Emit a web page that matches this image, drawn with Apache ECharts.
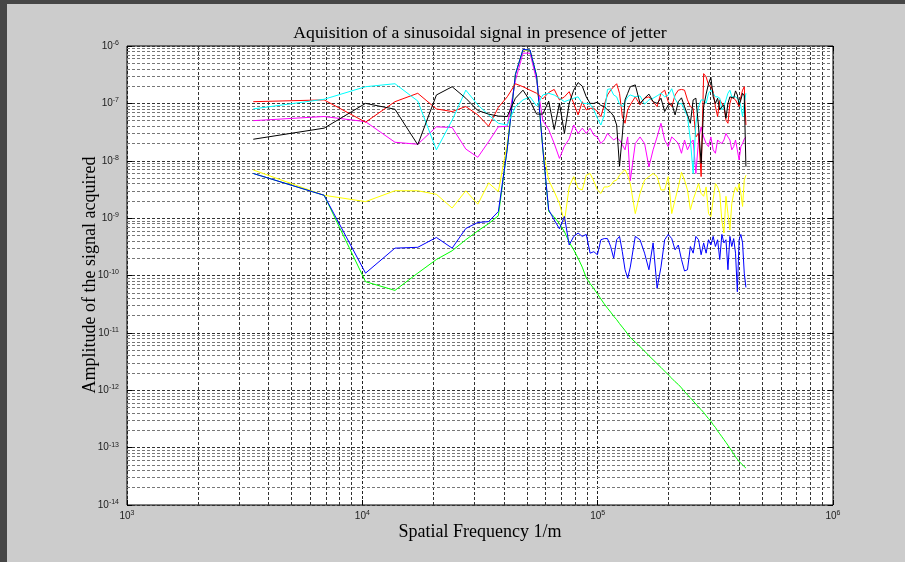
<!DOCTYPE html>
<html><head><meta charset="utf-8">
<script src="https://cdn.jsdelivr.net/npm/echarts@6/dist/echarts.min.js"></script>
<style>html,body{margin:0;padding:0;background:#cccccc;}#c{width:905px;height:562px;}</style>
</head><body><div id="c"></div>
<script>
// Spatial frequencies (1/m) of the harmonics
const freq = [3440,6880,10320,13760,17200,20640,24080,27520,30960,34400,
  37840,41280,44720,48160,51600,55040,58480,61920,65360,68800,
  72240,75680,79120,82560,86000,89440,92880,96320,99760,103200,
  106640,110080,113520,116960,120400,123840,127280,130720,134160,137600,
  144480,151360,158240,165120,172000,178880,185760,192640,199520,206400,
  213280,220160,227040,233920,240800,247680,254560,261440,268320,275200,
  282080,288960,295840,302720,309600,316480,323360,330240,337120,344000,
  350880,357760,364640,371520,378400,385280,392160,399040,405920,412800,
  419680,426560];

const greenVals = [6.0e-9,2.5e-9,7.8e-11,5.5e-11,1.1e-10,1.9e-10,2.7e-10,4.2e-10,6.0e-10,8.0e-10,
  1.1e-9,1.6e-8,3.2e-7,8.7e-7,8.5e-7,3.0e-7,1.6e-8,1.3e-9,1.05e-9,8.0e-10,
  5.8e-10,3.8e-10,2.8e-10,2.0e-10,1.4e-10,9.1e-11,7.2e-11,5.9e-11,4.8e-11,3.9e-11,
  3.2e-11,2.7e-11,2.3e-11,1.95e-11,1.7e-11,1.45e-11,1.26e-11,1.1e-11,9.5e-12,8.3e-12,
  6.9e-12,5.75e-12,4.8e-12,4.0e-12,3.4e-12,2.9e-12,2.5e-12,2.15e-12,1.86e-12,1.62e-12,
  1.41e-12,1.26e-12,1.1e-12,9.5e-13,8.3e-13,7.4e-13,6.5e-13,5.75e-13,5.1e-13,4.6e-13,
  4.1e-13,3.6e-13,3.2e-13,2.9e-13,2.5e-13,2.25e-13,1.95e-13,1.74e-13,1.55e-13,1.38e-13,
  1.23e-13,1.1e-13,9.8e-14,8.7e-14,7.8e-14,6.9e-14,6.3e-14,5.75e-14,5.4e-14,5.0e-14,
  4.7e-14,4.4e-14];

const blueVals = [6.0e-9,2.5e-9,1.1e-10,3.0e-10,3.1e-10,4.6e-10,3.0e-10,6.6e-10,8.4e-10,8.7e-10,
  1.3e-9,1.6e-8,3.2e-7,8.7e-7,8.5e-7,3.0e-7,1.6e-8,1.4e-9,9.3e-10,6.5e-10,
  1.07e-9,3.4e-10,4.8e-10,5.5e-10,4.8e-10,5.2e-10,2.45e-10,2.6e-10,2.3e-10,4.2e-10,
  4.4e-10,4.4e-10,3.2e-10,2.0e-10,4.2e-10,4.8e-10,2.6e-10,1.26e-10,9.0e-11,1.4e-10,
  4.8e-10,4.2e-10,2.45e-10,1.26e-10,3.7e-10,6.0e-11,1.4e-10,4.2e-10,5.2e-10,4.4e-10,
  2.8e-10,3.4e-10,1.9e-10,1.2e-10,1.26e-10,3.2e-10,2.45e-10,4.8e-10,4.2e-10,2.3e-10,
  3.7e-10,2.45e-10,4.2e-10,3.4e-10,4.8e-10,3.2e-10,4.2e-10,1.9e-10,5.2e-10,3.7e-10,
  4.2e-10,1.26e-10,4.8e-10,3.2e-10,4.4e-10,2.45e-10,5.2e-11,4.2e-10,5.2e-10,3.7e-10,
  1.1e-10,6.2e-11];

const yellowVals = [6.9e-9,2.5e-9,1.94e-9,3.0e-9,3.0e-9,2.6e-9,1.5e-9,3.0e-9,1.75e-9,4.1e-9,
  2.9e-9,2.0e-8,3.2e-7,8.5e-7,8.3e-7,3.0e-7,1.6e-8,4.6e-9,2.9e-9,1.8e-9,
  8.7e-10,3.5e-9,5.3e-9,3.3e-9,3.1e-9,5.6e-9,6.0e-9,4.4e-9,3.1e-9,2.7e-9,
  3.5e-9,3.5e-9,3.7e-9,4.4e-9,4.6e-9,5.6e-9,6.3e-9,7.0e-9,5.6e-9,4.0e-9,
  1.2e-9,2.7e-9,4.6e-9,5.3e-9,6.0e-9,5.3e-9,3.1e-9,3.1e-9,5.3e-9,1.2e-9,
  2.1e-9,3.5e-9,6.3e-9,4.6e-9,3.1e-9,1.4e-9,2.1e-9,2.9e-9,4.0e-9,2.7e-9,
  2.4e-9,3.5e-9,1.2e-9,1.06e-9,2.1e-9,4.0e-9,3.5e-9,2.7e-9,9.0e-10,5.5e-10,
  2.4e-9,1.2e-9,6.2e-10,1.8e-9,2.7e-9,3.5e-9,2.9e-9,4.0e-9,2.7e-9,1.6e-9,
  4.6e-9,5.6e-9];

const magentaVals = [5.0e-8,5.9e-8,4.8e-8,2.1e-8,1.94e-8,3.9e-8,3.8e-8,1.6e-8,1.15e-8,2.15e-8,
  3.9e-8,4.0e-8,2.5e-7,7.5e-7,7.5e-7,2.5e-7,5.0e-8,3.5e-8,2.0e-8,1.1e-8,
  1.8e-8,2.4e-8,4.2e-8,3.0e-8,3.7e-8,3.0e-8,3.7e-8,2.8e-8,2.6e-8,2.0e-8,
  2.3e-8,3.0e-8,2.6e-8,2.3e-8,2.5e-8,2.3e-8,1.9e-8,1.55e-8,2.6e-8,4.5e-9,
  2.0e-8,2.6e-8,2.0e-8,7.8e-9,1.55e-8,2.6e-8,4.5e-8,2.3e-8,1.76e-8,2.6e-8,
  2.3e-8,2.0e-8,1.35e-8,2.3e-8,1.55e-8,2.0e-8,2.3e-8,6.0e-9,2.3e-8,3.9e-8,
  2.6e-8,2.0e-8,1.76e-8,2.6e-8,1.55e-8,1.35e-8,2.3e-8,2.1e-8,2.0e-8,2.3e-8,
  3.0e-8,2.6e-8,2.3e-8,1.55e-8,1.76e-8,2.3e-8,1.55e-8,1.03e-8,1.76e-8,2.0e-8,
  2.4e-8,2.6e-8];

const redVals = [1.07e-7,1.15e-7,4.7e-8,1.07e-7,1.5e-7,8.0e-8,7.2e-8,8.8e-8,6.3e-8,4.0e-8,
  8.5e-8,1.3e-7,2.2e-7,1.95e-7,1.7e-7,1.5e-7,1.2e-7,1.55e-7,1.75e-7,1.15e-7,
  1.3e-7,1.6e-7,1.0e-7,6.3e-8,1.07e-7,7.7e-8,8.2e-8,8.2e-8,7.2e-8,5.9e-8,
  9.4e-8,1.4e-7,1.7e-7,1.95e-7,2.2e-7,1.5e-7,5.9e-8,4.5e-8,7.7e-8,9.4e-8,
  1.3e-7,9.4e-8,1.23e-7,1.3e-7,1.07e-7,8.8e-8,1.5e-7,1.7e-7,1.07e-7,8.8e-8,
  1.4e-7,1.7e-7,1.75e-7,1.7e-7,1.15e-7,8.8e-8,8.2e-8,2.6e-8,3.0e-8,5.3e-9,
  3.3e-7,2.9e-7,2.1e-7,2.0e-7,1.6e-7,8.8e-8,5.9e-8,1.15e-7,1.0e-7,8.8e-8,
  5.1e-8,4.5e-8,1.0e-7,1.3e-7,1.4e-7,1.15e-7,1.07e-7,8.8e-8,1.3e-7,1.7e-7,
  1.95e-7,4.2e-8];

const cyanVals = [8.0e-8,1.18e-7,1.95e-7,2.2e-7,1.1e-7,1.55e-8,5.1e-8,1.7e-7,9.4e-8,6.3e-8,
  4.5e-8,4.2e-8,8.8e-8,1.15e-7,1.3e-7,9.0e-8,1.4e-7,1.5e-7,1.4e-7,1.23e-7,
  1.07e-7,1.15e-7,1.23e-7,1.3e-7,1.0e-7,1.0e-7,9.7e-8,7.7e-8,5.5e-8,4.2e-8,
  6.3e-8,1.75e-7,1.8e-7,1.4e-7,1.3e-7,9.7e-8,8.8e-8,1.07e-7,1.3e-7,1.4e-7,
  1.3e-7,1.35e-7,9.7e-8,1.15e-7,1.23e-7,1.35e-7,1.5e-7,1.3e-7,1.4e-7,1.8e-7,
  1.2e-7,9.7e-8,1.0e-7,7.7e-8,5.9e-8,2.3e-8,6.0e-9,4.5e-8,8.8e-8,1.15e-7,
  1.15e-7,1.0e-7,1.5e-7,1.7e-7,1.5e-7,1.3e-7,1.3e-7,1.23e-7,7.7e-8,8.8e-8,
  1.15e-7,1.5e-7,1.7e-7,1.3e-7,1.23e-7,1.3e-7,1.3e-7,1.15e-7,8.8e-8,5.9e-8,
  1.0e-7,1.5e-7];

const blackVals = [2.37e-8,3.7e-8,1.0e-7,7.9e-8,1.9e-8,1.4e-7,1.95e-7,1.23e-7,7.5e-8,6.5e-8,
  6.0e-8,5.9e-8,1.23e-7,1.7e-7,1.1e-7,6.5e-8,6.5e-8,1.1e-7,3.5e-8,1.0e-7,
  3.0e-8,1.0e-7,1.7e-7,2.3e-7,2.0e-7,1.3e-7,1.0e-7,1.0e-7,1.05e-7,9.2e-8,
  8.8e-8,7.7e-8,7.0e-8,6.0e-8,4.2e-8,8.0e-9,2.8e-8,1.15e-7,1.5e-7,1.95e-7,
  2.1e-7,1.0e-7,1.23e-7,1.45e-7,1.07e-7,1.0e-7,1.23e-7,7.2e-8,9.4e-8,1.0e-7,
  6.3e-8,1.07e-7,1.25e-7,8.8e-8,6.3e-8,4.5e-8,1.15e-7,1.23e-7,3.9e-8,9.0e-9,
  8.8e-8,1.45e-7,2.2e-7,2.85e-7,1.3e-7,1.0e-7,1.23e-7,7.7e-8,8.8e-8,9.4e-8,
  5.5e-8,1.0e-7,1.3e-7,1.23e-7,1.23e-7,1.65e-7,1.4e-7,9.4e-8,1.15e-7,1.5e-7,
  1.35e-7,7.9e-9];

const titleText = 'Aquisition of a sinusoidal signal in presence of jetter';
const xName = 'Spatial Frequency 1/m';
const yName = 'Amplitude of the signal acquired';
const xRange = [1e3, 1e6];
const yRange = [1e-14, 1e-6];
const minorMantissas = [2,3,4,5,6,7,8,9];
const xDecadeExps = [3,4,5];
const yDecadeExps = [-14,-13,-12,-11,-10,-9,-8,-7];

const minorLines = [];
xDecadeExps.forEach(e => minorMantissas.forEach(m => minorLines.push({xAxis: m * Math.pow(10, e), lineStyle: {color: '#333'}})));
yDecadeExps.forEach(e => minorMantissas.forEach(m => minorLines.push({yAxis: m * Math.pow(10, e), lineStyle: {color: '#777'}})));

function pairs(vals) { return freq.map((f, i) => [f, vals[i]]); }
function supLabel(v) { const e = Math.round(Math.log10(v)); return '{b|10}{s|' + e + '}'; }
const labelRich = {
  b: {fontFamily: 'Liberation Sans', fontSize: 10, color: '#222', lineHeight: 12},
  s: {fontFamily: 'Liberation Sans', fontSize: 7, color: '#222', lineHeight: 7, padding: [0, 0, 6, 0]}
};

const chart = echarts.init(document.getElementById('c'), null, {renderer: 'canvas'});
function mkSeries(name, vals, color, extra) {
  return Object.assign({
    name: name, type: 'line', data: pairs(vals), symbol: 'none', smooth: false,
    lineStyle: {color: color, width: 1}, itemStyle: {color: color},
    animation: false, silent: true, z: 2
  }, extra || {});
}
const textCommon = {fontFamily: 'Liberation Serif', fill: '#000', align: 'center', verticalAlign: 'middle', textAlign: 'center', textVerticalAlign: 'middle'};
chart.setOption({
  backgroundColor: '#cccccc',
  animation: false,
  graphic: [
    {type: 'rect', shape: {x: 0, y: 0, width: 905, height: 4}, style: {fill: '#464646'}, silent: true},
    {type: 'rect', shape: {x: 0, y: 0, width: 7, height: 562}, style: {fill: '#464646'}, silent: true},
    {type: 'text', x: 480, y: 33, silent: true, style: Object.assign({text: titleText, fontSize: 17.7}, textCommon)},
    {type: 'text', x: 90, y: 275, rotation: Math.PI / 2, silent: true, style: Object.assign({text: yName, fontSize: 18}, textCommon)},
    {type: 'text', x: 480, y: 532, silent: true, style: Object.assign({text: xName, fontSize: 18}, textCommon)}
  ],
  grid: {left: 127, top: 46, width: 706, height: 459, show: true, backgroundColor: '#ffffff', borderColor: '#000', borderWidth: 1},
  xAxis: [
    {type: 'log', logBase: 10, min: xRange[0], max: xRange[1], splitNumber: 3,
     axisLine: {show: false},
     axisTick: {show: true, inside: true, length: 5, lineStyle: {color: '#000'}},
     axisLabel: {formatter: supLabel, rich: labelRich, margin: 5},
     splitLine: {show: true, lineStyle: {color: '#222', type: [3, 2], width: 1}},
     minorTick: {show: false}, minorSplitLine: {show: false}},
    {type: 'log', logBase: 10, min: xRange[0], max: xRange[1], splitNumber: 3, position: 'top',
     axisLine: {show: false}, axisLabel: {show: false},
     axisTick: {show: true, inside: true, length: 5, lineStyle: {color: '#000'}},
     splitLine: {show: false}}
  ],
  yAxis: [
    {type: 'log', logBase: 10, min: yRange[0], max: yRange[1], splitNumber: 8,
     axisLine: {show: false},
     axisTick: {show: true, inside: true, length: 5, lineStyle: {color: '#000'}},
     axisLabel: {formatter: supLabel, rich: labelRich, margin: 8},
     splitLine: {show: true, lineStyle: {color: '#333', type: [3, 2], width: 1}}},
    {type: 'log', logBase: 10, min: yRange[0], max: yRange[1], splitNumber: 8, position: 'right',
     axisLine: {show: false}, axisLabel: {show: false},
     axisTick: {show: true, inside: true, length: 5, lineStyle: {color: '#000'}},
     splitLine: {show: false}}
  ],
  series: [
    mkSeries('yellow', yellowVals, '#ffff00', {
      markLine: {silent: true, z: 1, symbol: ['none', 'none'], animation: false, precision: 20,
        label: {show: false}, emphasis: {disabled: true},
        lineStyle: {type: [3, 2], width: 1, color: '#555'}, data: minorLines}
    }),
    mkSeries('magenta', magentaVals, '#ff00ff'),
    mkSeries('green', greenVals, '#00ff00'),
    mkSeries('blue', blueVals, '#0000ff'),
    mkSeries('red', redVals, '#ff0000'),
    mkSeries('cyan', cyanVals, '#00ffff'),
    mkSeries('black', blackVals, '#000000')
  ]
});
</script></body></html>
